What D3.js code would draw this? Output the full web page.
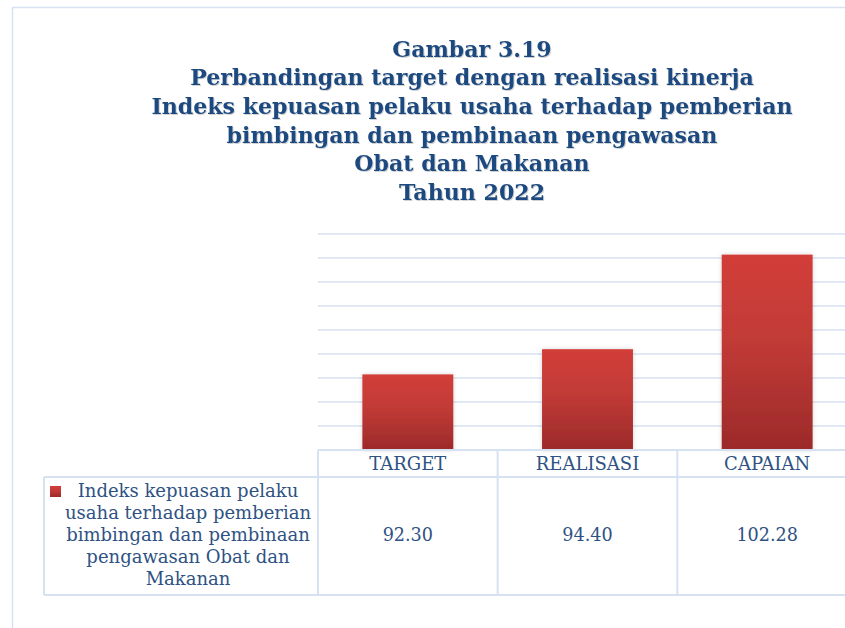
<!DOCTYPE html>
<html>
<head>
<meta charset="utf-8">
<script src="https://cdn.jsdelivr.net/npm/d3@7"></script>
<style>
  html, body { margin: 0; padding: 0; background: #fff; }
  svg { display: block; }
</style>
</head>
<body>
<svg id="chart" width="845" height="628"></svg>
<script>
// ---- data ----
const titleLines = [
  "Gambar 3.19",
  "Perbandingan target dengan realisasi kinerja",
  "Indeks kepuasan pelaku usaha terhadap pemberian",
  "bimbingan dan pembinaan pengawasan",
  "Obat dan Makanan",
  "Tahun 2022"
];
const categories = ["TARGET", "REALISASI", "CAPAIAN"];
const values = [92.30, 94.40, 102.28];
const valueLabels = ["92.30", "94.40", "102.28"];
const seriesName = ["Indeks kepuasan pelaku", "usaha terhadap pemberian", "bimbingan dan pembinaan", "pengawasan Obat dan", "Makanan"];
const yDomain = [86, 104];
const yTicks = [88, 90, 92, 94, 96, 98, 100, 102, 104];

// ---- layout ----
const svg = d3.select("#chart");
const textColor = "#2E5283";
const titleColor = "#1F4A7F";
const lineColor = "#D6E2F2";
const serif = "'DejaVu Serif', serif";

const plotLeft = 318, plotRight = 857, plotTop = 234, plotBottom = 450;
const x = d3.scaleBand().domain(categories).range([plotLeft, plotRight])
  .paddingInner(0.494).paddingOuter(0.247);
const y = d3.scaleLinear().domain(yDomain).range([plotBottom, plotTop]);

const defs = svg.append("defs");
const grad = defs.append("linearGradient").attr("id", "barGrad")
  .attr("x1", 0).attr("y1", 0).attr("x2", 0).attr("y2", 1);
grad.append("stop").attr("offset", "0%").attr("stop-color", "#D23E39");
grad.append("stop").attr("offset", "45%").attr("stop-color", "#C13A36");
grad.append("stop").attr("offset", "100%").attr("stop-color", "#9C2A2A");
const shadow = defs.append("filter").attr("id", "barShadow")
  .attr("x", "-20%").attr("y", "-10%").attr("width", "140%").attr("height", "120%");
shadow.append("feDropShadow").attr("dx", 0).attr("dy", 0).attr("stdDeviation", 2)
  .attr("flood-color", "#000").attr("flood-opacity", 0.18);
const tshadow = defs.append("filter").attr("id", "textShadow")
  .attr("x", "-5%").attr("y", "-20%").attr("width", "110%").attr("height", "140%");
tshadow.append("feDropShadow").attr("dx", 1).attr("dy", 1).attr("stdDeviation", 0.6)
  .attr("flood-color", "#000").attr("flood-opacity", 0.18);

// outer frame
svg.append("rect").attr("x", 12.5).attr("y", 7.5).attr("width", 900).attr("height", 700)
  .attr("fill", "none").attr("stroke", lineColor).attr("stroke-width", 1.5);

// title
svg.append("g").attr("filter", "url(#textShadow)")
  .selectAll("text").data(titleLines).join("text")
  .attr("x", 472).attr("y", (d, i) => 56.5 + i * 28.7)
  .attr("text-anchor", "middle")
  .attr("font-family", serif).attr("font-weight", "bold").attr("font-size", 22.1)
  .attr("fill", titleColor).text(d => d);

// gridlines
svg.append("g").selectAll("line").data(yTicks).join("line")
  .attr("x1", plotLeft).attr("x2", 845)
  .attr("y1", d => y(d)).attr("y2", d => y(d))
  .attr("stroke", lineColor).attr("stroke-width", 1.6);

// bars
svg.append("g").selectAll("rect").data(values).join("rect")
  .attr("x", (d, i) => x(categories[i]))
  .attr("width", x.bandwidth())
  .attr("y", d => y(d))
  .attr("height", d => y(yDomain[0]) - y(d))
  .attr("fill", "url(#barGrad)")
  .attr("filter", "url(#barShadow)");

// data table
const headTop = plotBottom, headBottom = 477, rowBottom = 595, legendLeft = 44;
const step = x.step();
const colEdges = categories.map(c => x(c) - (step - x.bandwidth()) / 2);
const tbl = svg.append("g").attr("stroke", lineColor).attr("stroke-width", 2).attr("fill", "none");
tbl.append("line").attr("x1", plotLeft).attr("x2", 900).attr("y1", headTop).attr("y2", headTop);
tbl.append("line").attr("x1", legendLeft).attr("x2", 900).attr("y1", headBottom).attr("y2", headBottom);
tbl.append("line").attr("x1", legendLeft).attr("x2", 900).attr("y1", rowBottom).attr("y2", rowBottom);
tbl.append("line").attr("x1", legendLeft).attr("x2", legendLeft).attr("y1", headBottom).attr("y2", rowBottom);
tbl.selectAll("line.col").data(colEdges.concat([colEdges[colEdges.length - 1] + step])).join("line")
  .attr("class", "col")
  .attr("x1", d => d).attr("x2", d => d).attr("y1", headTop).attr("y2", rowBottom);

// category labels
svg.append("g").selectAll("text").data(categories).join("text")
  .attr("x", d => x(d) + x.bandwidth() / 2).attr("y", 470)
  .attr("text-anchor", "middle").attr("font-family", serif).attr("font-size", 18)
  .attr("fill", textColor).text(d => d);

// values
svg.append("g").selectAll("text").data(valueLabels).join("text")
  .attr("x", (d, i) => x(categories[i]) + x.bandwidth() / 2).attr("y", 541)
  .attr("text-anchor", "middle").attr("font-family", serif).attr("font-size", 17.6)
  .attr("fill", textColor).text(d => d);

// legend cell
svg.append("rect").attr("x", 50).attr("y", 486).attr("width", 11).attr("height", 11)
  .attr("fill", "url(#barGrad)");
svg.append("g").selectAll("text").data(seriesName).join("text")
  .attr("x", 188).attr("y", (d, i) => 497 + i * 22)
  .attr("text-anchor", "middle").attr("font-family", serif).attr("font-size", 18)
  .attr("fill", textColor).text(d => d);
</script>
</body>
</html>
